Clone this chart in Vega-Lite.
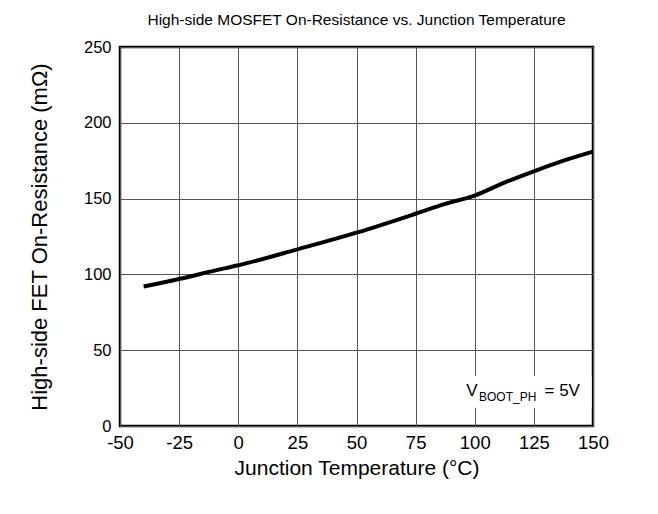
{
  "$schema": "https://vega.github.io/schema/vega-lite/v6.json",
  "width": 473,
  "height": 379,
  "autosize": {"type": "none"},
  "padding": {"left": 120, "top": 47, "right": 65, "bottom": 88},
  "background": "white",
  "config": {
    "font": "Liberation Sans",
    "view": {"stroke": "black", "strokeWidth": 2.5},
    "axis": {
      "labelFont": "Liberation Sans",
      "titleFont": "Liberation Sans",
      "labelFontSize": 18,
      "titleFontSize": 21,
      "titleFontWeight": "normal",
      "labelColor": "black",
      "titleColor": "black",
      "domain": false,
      "ticks": false,
      "grid": true,
      "gridColor": "#555555",
      "gridWidth": 1,
      "gridOpacity": 1
    },
    "title": {"font": "Liberation Sans", "fontSize": 15.5, "fontWeight": "normal", "color": "black"}
  },
  "title": {"text": "High-side MOSFET On-Resistance vs. Junction Temperature", "anchor": "middle", "offset": 11},
  "datasets": {
    "curve": [
      {"temp": -40, "ron": 92},
      {"temp": -25, "ron": 97},
      {"temp": -10, "ron": 102.5},
      {"temp": 0, "ron": 106},
      {"temp": 25, "ron": 116.5},
      {"temp": 50, "ron": 127.5},
      {"temp": 75, "ron": 140},
      {"temp": 87.5, "ron": 146.5},
      {"temp": 100, "ron": 152},
      {"temp": 112.5, "ron": 160.5},
      {"temp": 125, "ron": 168},
      {"temp": 137.5, "ron": 175},
      {"temp": 150, "ron": 181}
    ],
    "box": [{"x1": 93.5, "x2": 149.4, "y1": 12, "y2": 33}],
    "notes": [
      {"x": 96.4, "y": 19.8, "label": "V", "size": 17},
      {"x": 101.8, "y": 16.3, "label": "BOOT_PH", "size": 12},
      {"x": 129.5, "y": 19.8, "label": "= 5V", "size": 17}
    ]
  },
  "layer": [
    {
      "data": {"name": "box"},
      "mark": {"type": "rect", "fill": "white"},
      "encoding": {
        "x": {"field": "x1", "type": "quantitative", "scale": {"domain": [-50, 150], "nice": false, "zero": false, "padding": 0},
              "axis": {"values": [-50, -25, 0, 25, 50, 75, 100, 125, 150], "title": "Junction Temperature (°C)", "labelFontSize": 18.5, "labelPadding": 7, "titlePadding": 6, "labelFlush": false,
                       "labelExpr": "datum.value < 0 ? '-' + abs(datum.value) : '' + datum.value"}},
        "x2": {"field": "x2"},
        "y": {"field": "y1", "type": "quantitative", "scale": {"domain": [0, 250], "nice": false, "zero": false, "padding": 0},
              "axis": {"values": [0, 50, 100, 150, 200, 250], "title": "High-side FET On-Resistance (mΩ)", "labelFontSize": 16.5, "titleFontSize": 22, "labelPadding": 9, "titlePadding": 32, "labelFlush": false}},
        "y2": {"field": "y2"}
      }
    },
    {
      "data": {"name": "curve"},
      "mark": {"type": "line", "color": "black", "strokeWidth": 4, "interpolate": "monotone"},
      "encoding": {
        "x": {"field": "temp", "type": "quantitative"},
        "y": {"field": "ron", "type": "quantitative"}
      }
    },
    {
      "data": {"name": "notes"},
      "mark": {"type": "text", "align": "left", "baseline": "alphabetic", "color": "black"},
      "encoding": {
        "x": {"field": "x", "type": "quantitative"},
        "y": {"field": "y", "type": "quantitative"},
        "text": {"field": "label"},
        "size": {"field": "size", "type": "quantitative", "scale": null}
      }
    }
  ]
}
